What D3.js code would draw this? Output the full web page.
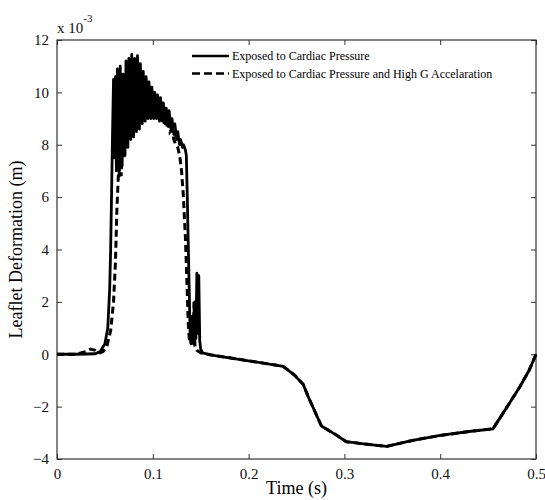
<!DOCTYPE html>
<html>
<head>
<meta charset="utf-8">
<script src="https://d3js.org/d3.v7.min.js"></script>
<style>
  body { margin: 0; background: #fff; }
  svg { display: block; font-family: "Liberation Serif", "Times New Roman", serif; }
</style>
</head>
<body>
<svg id="chart" width="545" height="500"></svg>
<script>
// time (s) and deformation (x 1e-3 m)
const cardiacT = [0, 0.02, 0.04, 0.045, 0.05, 0.053, 0.055, 0.056, 0.057, 0.058, 0.059,
  0.060, 0.061, 0.062, 0.063, 0.065, 0.066, 0.068, 0.069, 0.071, 0.072, 0.074, 0.075, 0.077, 0.078,
  0.080, 0.081, 0.083, 0.084, 0.086, 0.087, 0.089, 0.090, 0.092, 0.093, 0.095, 0.096, 0.098, 0.099,
  0.101, 0.102, 0.104, 0.105, 0.107, 0.108, 0.110, 0.111, 0.113, 0.114, 0.116, 0.117, 0.119, 0.120,
  0.122, 0.123, 0.125, 0.126, 0.128, 0.129, 0.131, 0.132, 0.134, 0.135, 0.136, 0.137, 0.138, 0.139,
  0.140, 0.142, 0.1425, 0.144, 0.145, 0.146, 0.147, 0.148, 0.149, 0.150, 0.152, 0.16, 0.20, 0.236,
  0.248, 0.257, 0.262, 0.276, 0.290, 0.302, 0.320, 0.344, 0.370, 0.400, 0.430, 0.455, 0.470, 0.483,
  0.493, 0.5];
const cardiacV = [0, 0, 0.02, 0.1, 0.4, 1.0, 2.5, 4.0, 6.2, 8.5, 10.5,
  7.5, 10.6, 7.0, 10.9, 6.8, 11.0, 7.2, 10.7, 7.6, 11.2, 7.9, 11.3, 8.2, 11.45,
  8.3, 11.3, 8.5, 11.4, 8.6, 11.1, 8.8, 10.8, 8.9, 10.6, 9.0, 10.4, 9.0, 10.2,
  9.0, 10.0, 9.0, 9.9, 8.9, 9.8, 8.9, 9.6, 8.8, 9.4, 8.7, 9.3, 8.6, 9.0,
  8.4, 8.8, 8.2, 8.5, 8.0, 8.2, 7.9, 8.0, 7.8, 7.6, 6.0, 4.2, 2.5, 0.7,
  0.4, 1.0, 0.4, 2.0, 0.6, 3.1, 0.8, 3.0, 0.5, 0.2, 0.05, -0.02, -0.25, -0.46,
  -0.8, -1.15, -1.6, -2.74, -3.05, -3.34, -3.42, -3.52, -3.3, -3.1, -2.95, -2.85, -2.0, -1.25,
  -0.6, 0];

const highGT = [0, 0.02, 0.03, 0.035, 0.04, 0.045, 0.048, 0.052, 0.056, 0.059, 0.061, 0.0625, 0.064, 0.065,
  0.066, 0.067, 0.069, 0.070, 0.072, 0.073, 0.075, 0.076, 0.078, 0.079, 0.081, 0.082, 0.084, 0.085,
  0.087, 0.088, 0.090, 0.091, 0.093, 0.094, 0.096, 0.097, 0.099, 0.100, 0.102, 0.103, 0.105, 0.106,
  0.108, 0.109, 0.111, 0.112, 0.114, 0.115, 0.117, 0.118, 0.120, 0.122, 0.124, 0.126, 0.128, 0.130,
  0.132, 0.133, 0.134, 0.136, 0.137, 0.138, 0.140, 0.141, 0.142, 0.143, 0.144, 0.146, 0.150, 0.16,
  0.20, 0.236, 0.248, 0.257, 0.262, 0.276, 0.290, 0.302, 0.320, 0.344, 0.370, 0.400, 0.430, 0.455,
  0.470, 0.483, 0.493, 0.5];
const highGV = [0, 0, 0.1, 0.2, 0.15, 0.05, 0.1, 0.3, 0.9, 2.0, 3.5, 5.5, 6.8, 7.2,
  9.5, 6.8, 10.0, 7.5, 10.3, 8.0, 10.6, 8.4, 10.8, 8.6, 10.9, 8.7, 10.7, 8.85,
  10.4, 8.9, 10.2, 9.0, 10.0, 9.0, 9.8, 9.1, 9.6, 9.1, 9.5, 9.1, 9.4, 9.0,
  9.3, 8.9, 9.2, 8.8, 9.0, 8.7, 8.9, 8.5, 8.6, 8.2, 8.0, 7.9, 7.6, 7.0,
  6.0, 5.2, 4.5, 2.3, 1.2, 0.6, 0.4, 1.5, 0.5, 2.0, 0.3, 0.15, 0.05, -0.02,
  -0.25, -0.46, -0.8, -1.15, -1.6, -2.74, -3.05, -3.34, -3.42, -3.52, -3.3, -3.1, -2.95, -2.85,
  -2.0, -1.25, -0.6, 0];

const xTicks = [0, 0.1, 0.2, 0.3, 0.4, 0.5];
const yTicks = [-4, -2, 0, 2, 4, 6, 8, 10, 12];
const legendLabels = ["Exposed to Cardiac Pressure", "Exposed to Cardiac Pressure and High G Accelaration"];

const svg = d3.select('#chart');
const margin = { top: 40, right: 9, bottom: 41, left: 57 };
const width = +svg.attr('width');
const height = +svg.attr('height');
const innerWidth = width - margin.left - margin.right;
const innerHeight = height - margin.top - margin.bottom;

const xScale = d3.scaleLinear().domain([0, 0.5]).range([0, innerWidth]);
const yScale = d3.scaleLinear().domain([-4, 12]).range([innerHeight, 0]);

const g = svg.append('g').attr('transform', `translate(${margin.left},${margin.top})`);

// axes with inward ticks, mirrored on top and right
const styleAxis = (sel) => {
  sel.select('.domain').remove();
  sel.selectAll('line').attr('stroke', '#333');
  sel.selectAll('text').attr('font-size', 15).attr('fill', '#111')
    .attr('font-family', '"Liberation Serif", serif');
};

g.append('g')
  .attr('transform', `translate(0,${innerHeight})`)
  .call(d3.axisBottom(xScale).tickValues(xTicks).tickSize(-5).tickPadding(9).tickFormat(d3.format('')))
  .call(styleAxis);
g.append('g')
  .call(d3.axisTop(xScale).tickValues(xTicks).tickSize(-5).tickFormat(''))
  .call(styleAxis);
g.append('g')
  .call(d3.axisLeft(yScale).tickValues(yTicks).tickSize(-5).tickPadding(8))
  .call(styleAxis);
g.append('g')
  .attr('transform', `translate(${innerWidth},0)`)
  .call(d3.axisRight(yScale).tickValues(yTicks).tickSize(-5).tickFormat(''))
  .call(styleAxis);

g.append('rect')
  .attr('width', innerWidth).attr('height', innerHeight)
  .attr('fill', 'none').attr('stroke', '#333').attr('stroke-width', 1.2);

const line = d3.line()
  .x(d => xScale(d[0]))
  .y(d => yScale(d[1]));

const cardiac = cardiacT.map((t, i) => [t, cardiacV[i]]);
const highG = highGT.map((t, i) => [t, highGV[i]]);

g.append('path').datum(highG)
  .attr('d', line).attr('fill', 'none').attr('stroke', '#000')
  .attr('stroke-width', 3).attr('stroke-dasharray', '7,4');
g.append('path').datum(cardiac)
  .attr('d', line).attr('fill', 'none').attr('stroke', '#000')
  .attr('stroke-width', 2.8).attr('stroke-linejoin', 'round');

// legend
const legend = g.append('g').attr('transform', 'translate(135,16)');
legendLabels.forEach((lab, i) => {
  const row = legend.append('g').attr('transform', `translate(0,${i * 17.5})`);
  row.append('line').attr('x1', 0).attr('x2', 37).attr('y1', 0).attr('y2', 0)
    .attr('stroke', '#000').attr('stroke-width', 2.6)
    .attr('stroke-dasharray', i === 1 ? '8,4' : null);
  row.append('text').attr('x', 40).attr('y', 4).attr('font-size', 12).text(lab);
});

// exponent label
const expo = svg.append('text').attr('x', 57).attr('y', 33).attr('font-size', 15).attr('fill', '#111');
expo.append('tspan').text('x 10');
expo.append('tspan').attr('dy', -11).attr('font-size', 11).text('-3');

// axis titles
svg.append('text').attr('x', margin.left + innerWidth / 2).attr('y', 494)
  .attr('text-anchor', 'middle').attr('font-size', 18).text('Time (s)');
svg.append('text')
  .attr('transform', `translate(22,${margin.top + innerHeight / 2}) rotate(-90)`)
  .attr('text-anchor', 'middle').attr('font-size', 18).text('Leaflet Deformation (m)');
</script>
</body>
</html>
